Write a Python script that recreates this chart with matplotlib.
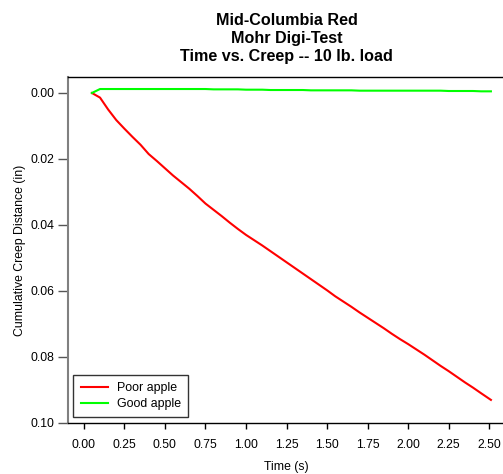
import matplotlib
matplotlib.use("Agg")
import matplotlib.pyplot as plt

plt.rcParams['font.family'] = ['Liberation Sans', 'DejaVu Sans']

# time (s)
time_s = [0.05, 0.10, 0.15, 0.20, 0.25, 0.30, 0.35, 0.40, 0.45, 0.50,
          0.55, 0.60, 0.65, 0.70, 0.75, 0.80, 0.85, 0.90, 0.95, 1.00,
          1.05, 1.10, 1.15, 1.20, 1.25, 1.30, 1.35, 1.40, 1.45, 1.50,
          1.55, 1.60, 1.65, 1.70, 1.75, 1.80, 1.85, 1.90, 1.95, 2.00,
          2.05, 2.10, 2.15, 2.20, 2.25, 2.30, 2.35, 2.40, 2.45, 2.51]

# cumulative creep (in)
poor_apple = [0.0000, 0.0014, 0.0050, 0.0082, 0.0108, 0.0133, 0.0157, 0.0185, 0.0206, 0.0228,
              0.0250, 0.0270, 0.0290, 0.0312, 0.0335, 0.0354, 0.0373, 0.0393, 0.0412, 0.0430,
              0.0446, 0.0462, 0.0479, 0.0496, 0.0513, 0.0530, 0.0547, 0.0564, 0.0581, 0.0598,
              0.0616, 0.0632, 0.0648, 0.0665, 0.0681, 0.0697, 0.0713, 0.0730, 0.0746, 0.0761,
              0.0777, 0.0793, 0.0810, 0.0827, 0.0843, 0.0860, 0.0877, 0.0893, 0.0910, 0.0930]

good_apple = [0.0000, -0.0012, -0.0012, -0.0012, -0.0012, -0.0012, -0.0012, -0.0012, -0.0012, -0.0012,
              -0.0012, -0.0012, -0.0012, -0.0012, -0.0012, -0.0011, -0.0011, -0.0011, -0.0011, -0.0010,
              -0.0010, -0.0010, -0.0009, -0.0009, -0.0009, -0.0009, -0.0009, -0.0008, -0.0008, -0.0008,
              -0.0008, -0.0008, -0.0008, -0.0007, -0.0007, -0.0007, -0.0007, -0.0007, -0.0007, -0.0007,
              -0.0007, -0.0007, -0.0007, -0.0007, -0.0006, -0.0006, -0.0006, -0.0006, -0.0005, -0.0005]

x_ticks = [0.00, 0.25, 0.50, 0.75, 1.00, 1.25, 1.50, 1.75, 2.00, 2.25, 2.50]
y_ticks = [0.00, 0.02, 0.04, 0.06, 0.08, 0.10]

fig = plt.figure(figsize=(5.03, 4.74), dpi=100)
ax = fig.add_axes([0.135, 0.1076, 0.87, 0.73])

ax.plot(time_s, poor_apple, color='#ff0000', lw=1.5, label='Poor apple')
ax.plot(time_s, good_apple, color='#00ff00', lw=1.5, label='Good apple')

ax.set_xlim(-0.098, 2.60)
ax.set_ylim(0.10, -0.00485)
ax.set_xticks(x_ticks)
ax.set_xticklabels([f'{v:.2f}' for v in x_ticks])
ax.set_yticks(y_ticks)
ax.set_yticklabels([f'{v:.2f}' for v in y_ticks])
ax.tick_params(axis='x', direction='out', length=4.5, width=1, labelsize=8.8, pad=7)
ax.tick_params(axis='y', direction='out', length=7, width=1, labelsize=8.8, pad=3,
               color='#555555')

ax.spines['left'].set_color('#808080')
ax.spines['left'].set_linewidth(1.5)
ax.spines['right'].set_visible(False)
for s in ['top', 'bottom']:
    ax.spines[s].set_linewidth(1.0)
    ax.spines[s].set_color('black')

ax.set_xlabel('Time (s)', fontsize=8.8, labelpad=7)
ax.set_ylabel('Cumulative Creep Distance (in)', fontsize=8.8, labelpad=3)
ax.set_title('Mid-Columbia Red\nMohr Digi-Test\nTime vs. Creep -- 10 lb. load',
             fontsize=11.6, fontweight='bold', pad=11.5, linespacing=1.24)

leg = ax.legend(loc='lower left', fontsize=8.9, frameon=True, fancybox=False,
                borderaxespad=0.45, handlelength=2.2, handletextpad=0.7,
                borderpad=0.6, labelspacing=0.3)
leg.get_frame().set_edgecolor('black')
leg.get_frame().set_linewidth(1.0)

fig.savefig('out.png', dpi=100)
